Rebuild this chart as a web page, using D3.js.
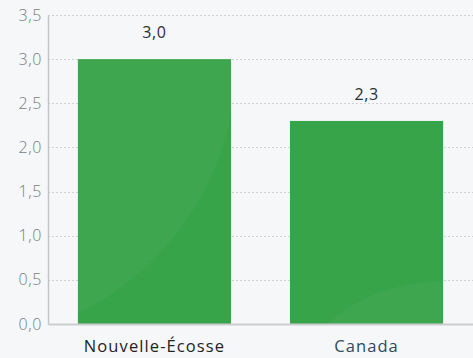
<!DOCTYPE html>
<html>
<head>
<meta charset="utf-8">
<script src="https://cdn.jsdelivr.net/npm/d3@7"></script>
<style>
  html, body { margin: 0; padding: 0; background: #f6f7f9; }
  svg { display: block; }
  text { font-family: "Open Sans", "Lato", sans-serif; }
</style>
</head>
<body>
<svg id="chart" width="473" height="358"></svg>
<script>
// Categories and values (per cent)
const categories = ["Nouvelle-Écosse", "Canada"];
const values = [3.0, 2.3];
const yTicks = [0, 0.5, 1.0, 1.5, 2.0, 2.5, 3.0, 3.5];
const categoryColors = ["#1f2326", "#2e4a5c"];

const W = 473, H = 358;
const margin = { top: 15, right: 0, bottom: 34, left: 48 };
const fmt = v => d3.format(".1f")(v).replace(".", ",");

const svg = d3.select("#chart");

const x = d3.scaleBand()
  .domain(categories)
  .range([margin.left, W - margin.right])
  .paddingInner(0.278)
  .paddingOuter(0.141);

const y = d3.scaleLinear()
  .domain([0, 3.5])
  .range([H - margin.bottom, margin.top]);

// dotted gridlines
svg.append("g")
  .selectAll("line")
  .data(yTicks.filter(d => d > 0))
  .join("line")
  .attr("x1", margin.left).attr("x2", W)
  .attr("y1", d => Math.round(y(d)) + 0.5)
  .attr("y2", d => Math.round(y(d)) + 0.5)
  .attr("stroke", "#cfd2d5")
  .attr("stroke-width", 1)
  .attr("stroke-dasharray", "2,2");

// bars
const defs = svg.append("defs");
categories.forEach((c, i) => {
  defs.append("clipPath").attr("id", "clip" + i)
    .append("rect")
    .attr("x", x(c)).attr("y", y(values[i]))
    .attr("width", x.bandwidth())
    .attr("height", y(0) - y(values[i]));
});

const bars = svg.append("g");
bars.selectAll("rect")
  .data(values)
  .join("rect")
  .attr("x", (d, i) => x(categories[i]))
  .attr("y", d => y(d))
  .attr("width", x.bandwidth())
  .attr("height", d => y(0) - y(d))
  .attr("fill", "#38a449");

// soft decorative sheen on each bar
const sheen = [
  { dx: -122, fromTop: true, dy: 2, r: 280 },
  { dx: x.bandwidth() - 6, fromTop: false, dy: 124, r: 166 }
];
bars.selectAll("circle")
  .data(values)
  .join("circle")
  .attr("clip-path", (d, i) => `url(#clip${i})`)
  .attr("cx", (d, i) => x(categories[i]) + sheen[i].dx)
  .attr("cy", (d, i) => (sheen[i].fromTop ? y(d) : y(0)) + sheen[i].dy)
  .attr("r", (d, i) => sheen[i].r)
  .attr("fill", "#ffffff")
  .attr("opacity", 0.032);

// value labels
svg.append("g")
  .selectAll("text")
  .data(values)
  .join("text")
  .attr("x", (d, i) => x(categories[i]) + x.bandwidth() / 2)
  .attr("y", d => y(d) - 21)
  .attr("text-anchor", "middle")
  .attr("font-size", 16)
  .attr("letter-spacing", 0.6)
  .attr("fill", "#2b2f33")
  .text(d => fmt(d));

// y axis
const yAxis = svg.append("g")
  .attr("transform", `translate(${margin.left},0)`)
  .call(d3.axisLeft(y).tickValues(yTicks).tickFormat(fmt).tickSize(0).tickPadding(6));
yAxis.select(".domain").attr("stroke", "#c2c5c8").attr("stroke-width", 1.5);
yAxis.selectAll("text")
  .attr("font-size", 16)
  .attr("font-weight", 300)
  .attr("letter-spacing", 0.6)
  .attr("fill", "#777c81");

// x axis
const xAxis = svg.append("g")
  .attr("transform", `translate(0,${y(0)})`)
  .call(d3.axisBottom(x).tickSize(0));
xAxis.select(".domain").attr("stroke", "#cbcdd0").attr("stroke-width", 2);
xAxis.selectAll("text")
  .attr("y", 28).attr("dy", null)
  .attr("font-size", 16.5)
  .attr("letter-spacing", 1.1)
  .attr("fill", (d, i) => categoryColors[i]);
</script>
</body>
</html>
